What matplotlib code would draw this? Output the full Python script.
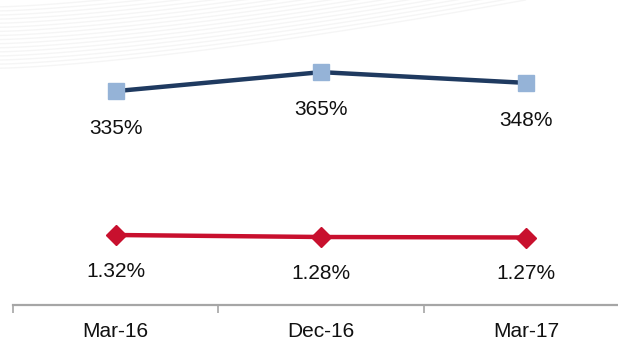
import numpy as np
import matplotlib.pyplot as plt

plt.rcParams['font.family'] = ['Liberation Sans', 'DejaVu Sans']

periods = ["Mar-16", "Dec-16", "Mar-17"]
coverage = [335, 365, 348]          # upper series, %
ratio = [1.32, 1.28, 1.27]          # lower series, %
coverage_labels = ["335%", "365%", "348%"]
ratio_labels = ["1.32%", "1.28%", "1.27%"]

fig = plt.figure(figsize=(6.18, 3.41), dpi=100)

# faint swoosh in the background, top left
bg = fig.add_axes([0, 0, 1, 1], zorder=-1)
bg.set_xlim(0, 1)
bg.set_ylim(0, 1)
bg.axis("off")
t = np.linspace(0, 1, 200)
for i in range(16):
    off = i * 0.012
    xs = t * 0.85
    ys = 0.80 + off + 0.20 * t ** 1.4
    bg.plot(xs, ys, color="#ececec", lw=1.0, alpha=0.5)

ax = fig.add_axes([13 / 618, 36 / 341, 616 / 618, 305 / 341])
x = np.arange(len(periods))

ax.plot(x, coverage, color="#1f3a60", lw=3.2, marker="s", ms=11.5,
        mfc="#95b3d7", mec="#95b3d7", zorder=3)
ax.set_ylim(-3, 479)
for xi, v, s in zip(x, coverage, coverage_labels):
    ax.annotate(s, (xi, v), xytext=(0, -27), textcoords="offset points",
                ha="center", va="center", fontsize=15, color="#111111")

ax2 = ax.twinx()
ax2.set_position(ax.get_position())
ax2.plot(x, ratio, color="#c8102e", lw=3.2, marker="D", ms=10,
         mfc="#c8102e", mec="#c8102e", zorder=3)
ax2.set_ylim(-0.08, 6.02)
for xi, v, s in zip(x, ratio, ratio_labels):
    ax2.annotate(s, (xi, v), xytext=(0, -26), textcoords="offset points",
                 ha="center", va="center", fontsize=15, color="#111111")

for a in (ax, ax2):
    a.set_xlim(-0.5, 2.5)
    a.set_yticks([])
    for side in ("top", "left", "right"):
        a.spines[side].set_visible(False)
    a.patch.set_visible(False)

ax2.spines["bottom"].set_visible(False)
ax.spines["bottom"].set_color("#a6a6a6")
ax.spines["bottom"].set_linewidth(1.6)

# ticks sit on category boundaries, labels at the centres
ax.set_xticks([-0.5, 0.5, 1.5, 2.5])
ax.tick_params(axis="x", which="major", direction="out", length=6,
               width=1.2, color="#a6a6a6", labelbottom=False)
ax.set_xticks(x, minor=True)
ax.set_xticklabels(periods, minor=True, fontsize=15, color="#111111")
ax.tick_params(axis="x", which="minor", length=0, pad=12)

fig.savefig("out.png", dpi=100)
